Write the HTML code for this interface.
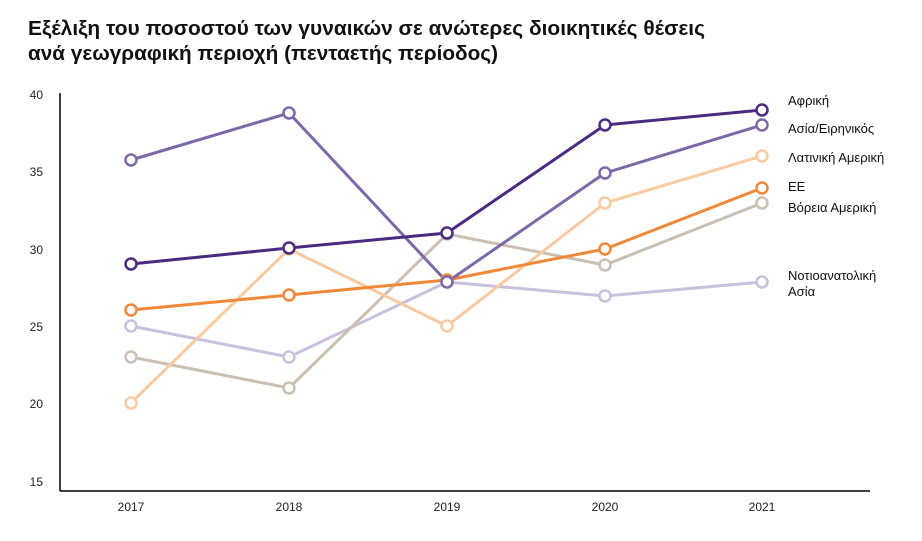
<!DOCTYPE html>
<html><head><meta charset="utf-8"><style>
body{margin:0;background:#fff;width:922px;height:536px;overflow:hidden}
svg text{font-family:"Liberation Sans",sans-serif}
</style></head><body>
<svg width="922" height="536" xmlns="http://www.w3.org/2000/svg">
<text x="28" y="35" font-size="20" font-weight="bold" fill="#111" textLength="677" lengthAdjust="spacingAndGlyphs">Εξέλιξη του ποσοστού των γυναικών σε ανώτερες διοικητικές θέσεις</text>
<text x="28" y="60" font-size="20" font-weight="bold" fill="#111" textLength="470" lengthAdjust="spacingAndGlyphs">ανά γεωγραφική περιοχή (πενταετής περίοδος)</text>
<g stroke="#000" stroke-width="1.5"><line x1="60" y1="93" x2="60" y2="491"/><line x1="60" y1="491" x2="870" y2="491"/></g>
<g font-size="12" fill="#222" text-anchor="end">
<text x="43" y="99">40</text><text x="43" y="176">35</text><text x="43" y="254">30</text><text x="43" y="331">25</text><text x="43" y="408">20</text><text x="43" y="486">15</text></g>
<g font-size="12" fill="#222" text-anchor="middle">
<text x="131" y="511">2017</text><text x="289" y="511">2018</text><text x="447" y="511">2019</text><text x="605" y="511">2020</text><text x="762" y="511">2021</text></g>
<g fill="none" stroke-width="3" stroke-linejoin="round">
<polyline stroke="#c8c0dc" points="131,326 289,357 447,282 605,296 762,282"/>
<polyline stroke="#cbbfb1" points="131,357 289,388 447,234 605,265 762,203"/>
<polyline stroke="#f9c9a0" points="131,403 289,249 447,326 605,203 762,156"/>
<polyline stroke="#f0883a" points="131,310 289,295 447,280 605,249 762,188"/>
<polyline stroke="#7d68a8" points="131,160 289,113 447,282 605,173 762,125"/>
<polyline stroke="#4b2a82" points="131,264 289,248 447,233 605,125 762,110"/>
</g>
<g fill="#fff" stroke-width="2.5">
<g stroke="#c8c0dc"><circle cx="131" cy="326" r="5.5"/><circle cx="289" cy="357" r="5.5"/><circle cx="447" cy="282" r="5.5"/><circle cx="605" cy="296" r="5.5"/><circle cx="762" cy="282" r="5.5"/></g>
<g stroke="#cbbfb1"><circle cx="131" cy="357" r="5.5"/><circle cx="289" cy="388" r="5.5"/><circle cx="447" cy="234" r="5.5"/><circle cx="605" cy="265" r="5.5"/><circle cx="762" cy="203" r="5.5"/></g>
<g stroke="#f9c9a0"><circle cx="131" cy="403" r="5.5"/><circle cx="289" cy="249" r="5.5"/><circle cx="447" cy="326" r="5.5"/><circle cx="605" cy="203" r="5.5"/><circle cx="762" cy="156" r="5.5"/></g>
<g stroke="#f0883a"><circle cx="131" cy="310" r="5.5"/><circle cx="289" cy="295" r="5.5"/><circle cx="447" cy="280" r="5.5"/><circle cx="605" cy="249" r="5.5"/><circle cx="762" cy="188" r="5.5"/></g>
<g stroke="#7d68a8"><circle cx="131" cy="160" r="5.5"/><circle cx="289" cy="113" r="5.5"/><circle cx="447" cy="282" r="5.5"/><circle cx="605" cy="173" r="5.5"/><circle cx="762" cy="125" r="5.5"/></g>
<g stroke="#4b2a82"><circle cx="131" cy="264" r="5.5"/><circle cx="289" cy="248" r="5.5"/><circle cx="447" cy="233" r="5.5"/><circle cx="605" cy="125" r="5.5"/><circle cx="762" cy="110" r="5.5"/></g>
</g>
<g font-size="13" fill="#111">
<text x="788" y="105">Αφρική</text>
<text x="788" y="133">Ασία/Ειρηνικός</text>
<text x="788" y="162">Λατινική Αμερική</text>
<text x="788" y="191">ΕΕ</text>
<text x="788" y="212">Βόρεια Αμερική</text>
<text x="788" y="280">Νοτιοανατολική</text>
<text x="788" y="296">Ασία</text>
</g>
</svg>
</body></html>
